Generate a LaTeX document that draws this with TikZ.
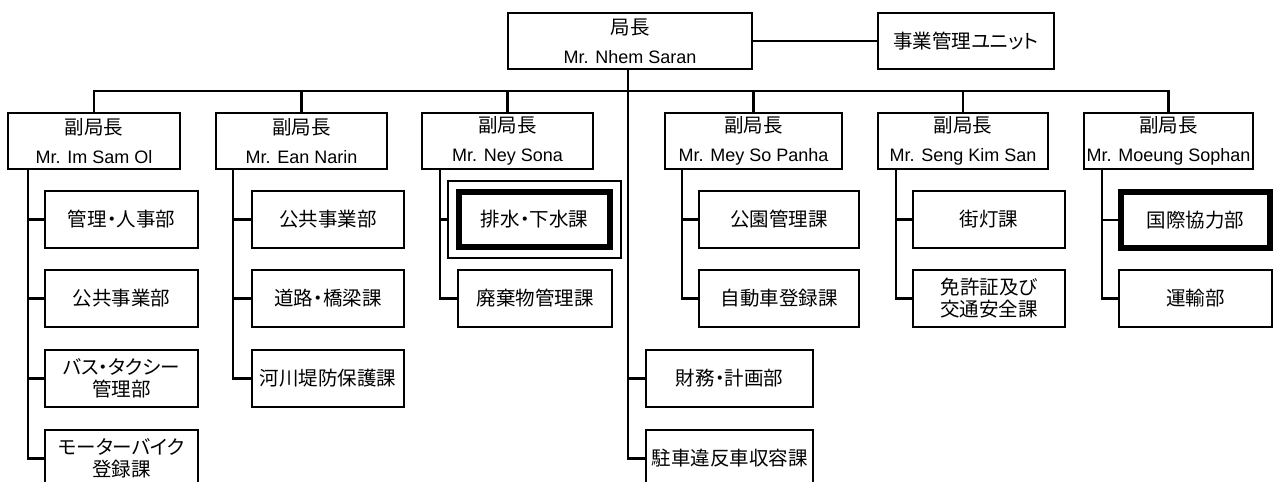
\documentclass[tikz,border=0pt]{standalone}
\usepackage{fontspec}
\setmainfont{Liberation Sans}
\newfontfamily\jp[RawFeature=+palt]{Noto Sans CJK JP}
\tikzset{
  box/.style={draw, line width=2.4pt, inner sep=0pt, outer sep=0pt, anchor=north west, align=center,
    font=\fontsize{19.5}{22}\selectfont\jp},
  dep/.style={box, font=\fontsize{18}{29}\selectfont},
  thickbox/.style={box, line width=5.5pt},
  conn/.style={line width=2.4pt}
}
\newcommand\bx[7]{\node[#1, minimum width={#5-#3}, minimum height={#6-#4}] (#2) at (#3,#4) {#7};}
\begin{document}
\begin{tikzpicture}[x=1pt,y=-1pt]
\useasboundingbox (0,0) rectangle (1280,482);
\clip (0,0) rectangle (1280,482);
% top
\bx{dep}{chief}{508}{13}{752}{69}{{\jp\fontsize{19.5}{29}\selectfont 局長}\\Mr. Nhem Saran}
\bx{box}{unit}{878}{13}{1054}{69}{事業管理ユニット}
% deputies
\bx{dep}{D1}{8}{113}{180}{169}{{\jp\fontsize{19.5}{29}\selectfont 副局長}\\Mr. Im Sam Ol}
\bx{dep}{D2}{216}{113}{387}{169}{{\jp\fontsize{19.5}{29}\selectfont 副局長}\\Mr. Ean Narin}
\bx{dep}{D3}{422}{113}{593}{169}{{\jp\fontsize{19.5}{29}\selectfont 副局長}\\Mr. Ney Sona}
\bx{dep}{D4}{665}{113}{842}{169}{{\jp\fontsize{19.5}{29}\selectfont 副局長}\\Mr. Mey So Panha}
\bx{dep}{D5}{878}{113}{1048}{169}{{\jp\fontsize{19.5}{29}\selectfont 副局長}\\Mr. Seng Kim San}
\bx{dep}{D6}{1084}{113}{1253}{169}{{\jp\fontsize{19.5}{29}\selectfont 副局長}\\Mr. Moeung Sophan}
% column 1
\bx{box}{C11}{45}{191}{198}{248}{管理・人事部}
\bx{box}{C12}{45}{270}{198}{327}{公共事業部}
\bx{box}{C13}{45}{350}{198}{407}{バス・タクシー\\管理部}
\bx{box}{C14}{45}{430}{198}{487}{モーターバイク\\登録課}
% column 2
\bx{box}{C21}{252}{191}{404}{248}{公共事業部}
\bx{box}{C22}{252}{270}{404}{327}{道路・橋梁課}
\bx{box}{C23}{252}{350}{404}{407}{河川堤防保護課}
% column 3
\bx{thickbox}{C31}{459}{192}{610}{247}{排水・下水課}
\bx{box}{C32}{458}{270}{612}{327}{廃棄物管理課}
% main column
\bx{box}{F1}{646}{350}{813}{407}{財務・計画部}
\bx{box}{F2}{646}{430}{813}{487}{駐車違反車収容課}
% column 4
\bx{box}{C41}{699}{191}{859}{248}{公園管理課}
\bx{box}{C42}{699}{270}{859}{327}{自動車登録課}
% column 5
\bx{box}{C51}{913}{191}{1065}{248}{街灯課}
\bx{box}{C52}{913}{270}{1065}{327}{免許証及び\\交通安全課}
% column 6
\bx{thickbox}{C61}{1121}{192}{1270}{248}{国際協力部}
\bx{box}{C62}{1119}{270}{1272}{327}{運輸部}
% outer frame of C31
\draw[line width=2.4pt] ([xshift=-11pt,yshift=11pt]C31.north west) rectangle ([xshift=11pt,yshift=-11pt]C31.south east);
\coordinate (C31o) at ([xshift=-11pt]C31.west);
% coordinates
\coordinate (bus) at (0,91);
\coordinate (s1) at (28,0);
\coordinate (s2) at (233,0);
\coordinate (s3) at (440,0);
\coordinate (s4) at (682,0);
\coordinate (s5) at (896,0);
\coordinate (s6) at (1102,0);
\coordinate (sm) at (628,0);
% top connectors
\draw[conn] (chief.east) -- (unit.west);
\draw[conn] (sm |- chief.south) |- (F2.west);
\draw[conn] (sm |- F1.west) -- (F1.west);
\draw[conn] (D1.north) -- (D1.north |- bus) -- (D6.north |- bus) -- (D6.north);
\foreach \d in {D2,D3,D4,D5} \draw[conn] (\d.north) -- (\d.north |- bus);
% column connectors
\draw[conn] (s1 |- D1.south) |- (C14.west);
\foreach \c in {C11,C12,C13} \draw[conn] (s1 |- \c.west) -- (\c.west);
\draw[conn] (s2 |- D2.south) |- (C23.west);
\foreach \c in {C21,C22} \draw[conn] (s2 |- \c.west) -- (\c.west);
\draw[conn] (s3 |- D3.south) |- (C32.west);
\draw[conn] (s3 |- C31o) -- (C31o);
\draw[conn] (s4 |- D4.south) |- (C42.west);
\draw[conn] (s4 |- C41.west) -- (C41.west);
\draw[conn] (s5 |- D5.south) |- (C52.west);
\draw[conn] (s5 |- C51.west) -- (C51.west);
\draw[conn] (s6 |- D6.south) |- (C62.west);
\draw[conn] (s6 |- C61.west) -- (C61.west);
\end{tikzpicture}
\end{document}
